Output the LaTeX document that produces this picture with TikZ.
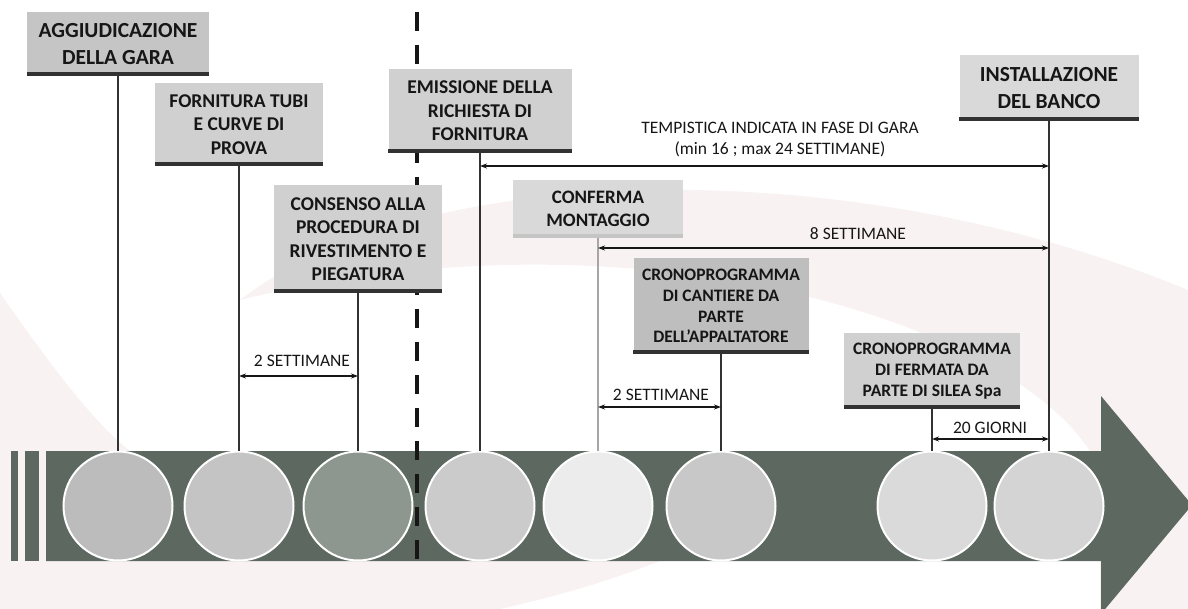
\documentclass[tikz,border=0pt]{standalone}
\usepackage{fontspec}
\setmainfont{Carlito}
\usepackage{tikz}
\usetikzlibrary{
    positioning,
    arrows.meta,
    calc
}
\definecolor{barGreen}{RGB}{93, 104, 97}
\definecolor{ruleGray}{RGB}{50, 50, 50}
\definecolor{inkGray}{RGB}{22, 22, 22}
\definecolor{swooshPink}{RGB}{249, 242, 243}
\definecolor{boxA}{RGB}{197, 197, 197}
\definecolor{boxB}{RGB}{208, 208, 208}
\definecolor{boxC}{RGB}{217, 217, 217}
\definecolor{boxD}{RGB}{190, 190, 190}
\definecolor{discA}{RGB}{188, 188, 188}
\definecolor{discB}{RGB}{196, 196, 196}
\definecolor{discC}{RGB}{142, 151, 143}
\definecolor{discD}{RGB}{203, 203, 203}
\definecolor{discE}{RGB}{236, 236, 236}
\definecolor{discF}{RGB}{200, 200, 200}
\definecolor{discG}{RGB}{218, 218, 218}
\definecolor{discH}{RGB}{212, 212, 212}

\begin{document}
\begin{tikzpicture}[x=1pt, y=-1pt, >={Stealth[length=7pt, width=5pt]},
    stagebox/.style={fill=boxB, inner sep=0pt, align=center, text=inkGray,
        font=\bfseries\fontsize{19.5}{23.5}\selectfont},
    boxrule/.style={draw=ruleGray, line width=4pt},
    disc/.style={circle, draw=white, line width=2pt, minimum size=109pt, inner sep=0pt},
    stem/.style={draw=ruleGray, line width=2.5pt},
    spanarrow/.style={<->, draw=inkGray, line width=1.3pt},
    spanlabel/.style={inner sep=0pt, align=center, text=inkGray,
        font=\fontsize{17.5}{21}\selectfont},
    cutline/.style={draw=inkGray, line width=4pt, dash pattern=on 19pt off 14pt}]
    % area e sfondo
    \useasboundingbox (0,0) rectangle (1188,609);
    \clip (0,0) rectangle (1188,609);
    \fill[swooshPink] (0,293) .. controls (40,350) and (90,420) .. (130,451)
        -- (660,561) .. controls (600,585) and (540,600) .. (500,609) -- (0,609) -- cycle;
    \fill[swooshPink] (240,300) .. controls (420,160) and (850,150) .. (1188,290)
        -- (1188,609) -- (1100,609) -- (1100,470)
        .. controls (1040,330) and (650,200) .. (240,300) -- cycle;

    % freccia del tempo
    \fill[barGreen] (46,451) -- (1101,451) -- (1101,396) -- (1192,505)
        -- (1101,614) -- (1101,561) -- (46,561) -- cycle;
    \fill[barGreen] (11,451) rectangle (18,561);
    \fill[barGreen] (25,451) rectangle (39,561);

    % linea di separazione
    \coordinate (cutTop) at (417,12);
    \coordinate (cutBottom) at (417,561);
    \draw[cutline] (cutTop) -- (cutBottom);

    % cerchi sulla freccia
    \foreach \x/\col [count=\i] in {118/discA, 239/discB, 358/discC, 480/discD,
        598/discE, 721/discF, 932/discG, 1049/discH}
        \node[disc, fill=\col] (c\i) at (\x,506) {};

    % riquadri delle fasi
    \node[stagebox, fill=boxA, minimum width=182pt, minimum height=64pt,
        font=\bfseries\fontsize{21.5}{27}\selectfont] (aggiud) at (118,44)
        {AGGIUDICAZIONE\\DELLA GARA};
    \node[stagebox, minimum width=168pt, minimum height=83pt] (fornitura) at (239,124.5)
        {FORNITURA TUBI\\E CURVE DI\\PROVA};
    \node[stagebox, minimum width=168pt, minimum height=108pt] (consenso) at (358,239)
        {CONSENSO ALLA\\PROCEDURA DI\\RIVESTIMENTO E\\PIEGATURA};
    \node[stagebox, minimum width=183pt, minimum height=84pt] (emissione) at (480,111)
        {EMISSIONE DELLA\\RICHIESTA DI\\FORNITURA};
    \node[stagebox, fill=boxC, minimum width=170pt, minimum height=58pt,
        font=\bfseries\fontsize{19}{23}\selectfont] (conferma) at (598,209)
        {CONFERMA\\MONTAGGIO};
    \node[stagebox, fill=boxD, minimum width=175pt, minimum height=96pt,
        font=\bfseries\fontsize{17.5}{20.7}\selectfont] (cantiere) at (721,306)
        {CRONOPROGRAMMA\\DI CANTIERE DA\\PARTE\\DELL’APPALTATORE};
    \node[stagebox, minimum width=176pt, minimum height=76pt,
        font=\bfseries\fontsize{17.5}{21}\selectfont] (fermata) at (932,371)
        {CRONOPROGRAMMA\\DI FERMATA DA\\PARTE DI SILEA Spa};
    \node[stagebox, fill=boxC, minimum width=179pt, minimum height=66pt,
        font=\bfseries\fontsize{21.5}{27}\selectfont] (install) at (1049,88)
        {INSTALLAZIONE\\DEL BANCO};

    \foreach \b in {aggiud, fornitura, consenso, emissione, cantiere, fermata, install}
        \draw[boxrule] ([yshift=2pt]\b.south west) -- ([yshift=2pt]\b.south east);
    \draw[boxrule, draw=boxA] ([yshift=2pt]conferma.south west) -- ([yshift=2pt]conferma.south east);

    % aste verso i cerchi
    \foreach \b/\i in {aggiud/1, fornitura/2, consenso/3, emissione/4, cantiere/6,
        fermata/7, install/8}
        \draw[stem] (\b.south) -- (\b.south |- c\i.north);
    \draw[stem, draw=gray!70, line width=1.6pt] (conferma.south) -- (conferma.south |- c5.north);

    % durate
    \coordinate (yTemp) at (0,166);
    \coordinate (yOtto) at (0,248);
    \coordinate (yDueA) at (0,376);
    \coordinate (yDueB) at (0,407);
    \coordinate (yVenti) at (0,439);
    \draw[spanarrow] (emissione.south |- yTemp) -- (install.south |- yTemp);
    \draw[spanarrow] (conferma.south |- yOtto) -- (install.south |- yOtto);
    \draw[spanarrow] (fornitura.south |- yDueA) -- (consenso.south |- yDueA);
    \draw[spanarrow] (conferma.south |- yDueB) -- (cantiere.south |- yDueB);
    \draw[spanarrow] (fermata.south |- yVenti) -- (install.south |- yVenti);

    \node[spanlabel] (lblTemp) at (780,140)
        {TEMPISTICA INDICATA IN FASE DI GARA\\(min 16 ; max 24 SETTIMANE)};
    \node[spanlabel] (lblOtto) at (858,233.5) {8 SETTIMANE};
    \node[spanlabel] (lblDueA) at (302,361) {2 SETTIMANE};
    \node[spanlabel] (lblDueB) at (661,394.5) {2 SETTIMANE};
    \node[spanlabel] (lblVenti) at (990,428) {20 GIORNI};
\end{tikzpicture}
\end{document}
